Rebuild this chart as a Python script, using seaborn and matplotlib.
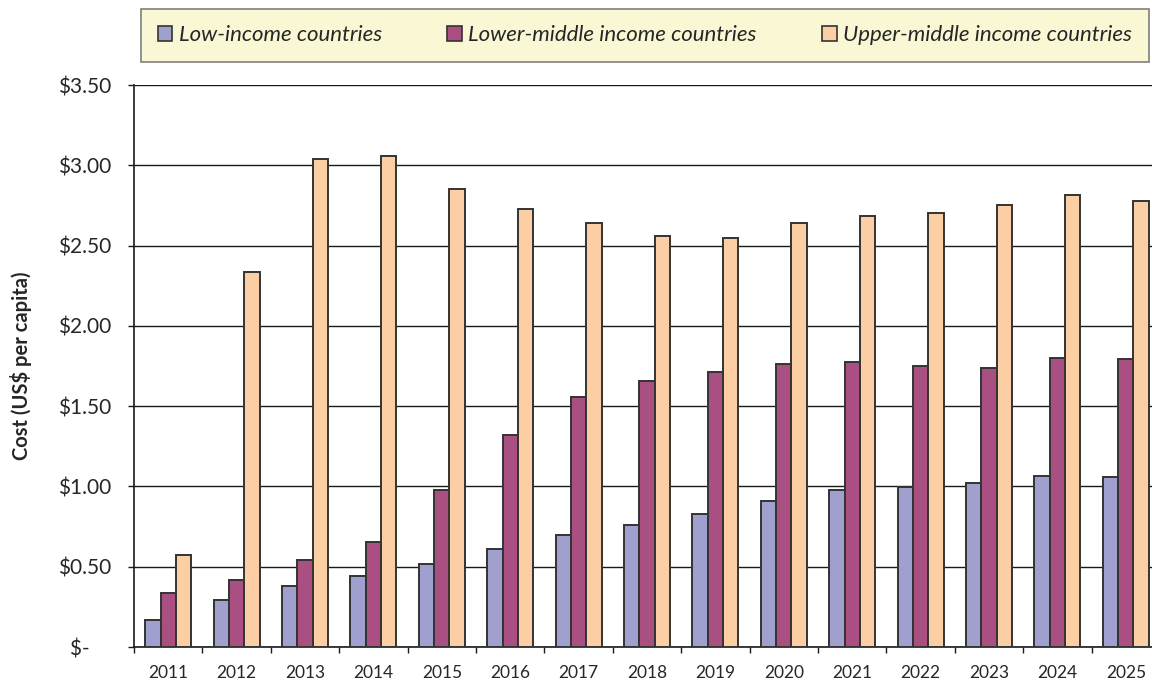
"""
Cost per capita by country income group, 2011-2025
Grouped bar chart recreated with seaborn
"""

import pandas as pd
import matplotlib
matplotlib.use("Agg")
import matplotlib.pyplot as plt
from matplotlib.patches import Patch
from matplotlib.ticker import MultipleLocator
import seaborn as sns

# ----------------------------
# DATA
# ----------------------------
years = [str(y) for y in range(2011, 2026)]
groups = ["Low-income countries", "Lower-middle income countries",
          "Upper-middle income countries"]

low_income = [0.17, 0.29, 0.38, 0.44, 0.515, 0.61, 0.70, 0.76, 0.83,
              0.91, 0.975, 0.995, 1.02, 1.065, 1.06]
lower_middle = [0.335, 0.42, 0.54, 0.655, 0.98, 1.32, 1.56, 1.655, 1.71,
                1.765, 1.775, 1.75, 1.74, 1.80, 1.795]
upper_middle = [0.57, 2.335, 3.04, 3.06, 2.85, 2.725, 2.64, 2.56, 2.545,
                2.64, 2.685, 2.705, 2.755, 2.815, 2.78]

y_ticks = [0, 0.5, 1.0, 1.5, 2.0, 2.5, 3.0, 3.5]
y_tick_labels = ["$-    ", "$0.50", "$1.00", "$1.50", "$2.00", "$2.50",
                 "$3.00", "$3.50"]

colors = ["#9FA0CE", "#A94F82", "#FBCFA3"]


def build_frame():
    """Long-form table for seaborn."""
    rows = []
    for name, vals in zip(groups, [low_income, lower_middle, upper_middle]):
        for yr, v in zip(years, vals):
            rows.append({"year": yr, "group": name, "cost": v})
    return pd.DataFrame(rows)


def main():
    df = build_frame()

    sns.set_style("white")
    plt.rcParams["font.family"] = ["Lato", "DejaVu Sans"]

    fig = plt.figure(figsize=(11.52, 6.89), dpi=100)
    ax = fig.add_axes([134 / 1152, 42 / 689, 1026 / 1152, 562 / 689])

    sns.barplot(data=df, x="year", y="cost", hue="group", order=years,
                hue_order=groups, palette=colors, width=0.67, gap=0,
                edgecolor="#333333", linewidth=1.4, saturation=1,
                legend=False, ax=ax, zorder=3)

    # axes look
    ax.set_ylim(0, 3.5)
    ax.set_xlim(-0.5, len(years) - 0.5)
    ax.set_yticks(y_ticks)
    ax.set_yticklabels(y_tick_labels)
    ax.yaxis.grid(True, color="#1a1a1a", linewidth=1.0, zorder=0)
    ax.xaxis.grid(False)
    ax.set_axisbelow(True)

    for side in ["top", "right"]:
        ax.spines[side].set_visible(False)
    for side in ["left", "bottom"]:
        ax.spines[side].set_color("#1a1a1a")
        ax.spines[side].set_linewidth(1.2)

    ax.tick_params(axis="y", which="major", direction="out", length=4.5,
                   width=1, color="#1a1a1a", pad=12, labelsize=15,
                   left=True)
    ax.tick_params(axis="x", which="major", length=0, pad=13, labelsize=12.5)
    ax.xaxis.set_minor_locator(MultipleLocator(1, offset=0.5))
    ax.tick_params(axis="x", which="minor", direction="out", length=4,
                   width=1, color="#1a1a1a", bottom=True)

    ax.set_xlabel("")
    ax.set_ylabel("Cost (US$ per capita)", fontsize=14.5, fontweight="bold")
    ax.yaxis.set_label_coords(-0.0995, 0.5)

    # legend box across the top
    handles = [Patch(facecolor=c, edgecolor="#333333", linewidth=1.2)
               for c in colors]
    leg = fig.legend(handles, groups, loc="lower left",
                     bbox_to_anchor=(141 / 1152, 1 - 62 / 689,
                                     1008 / 1152, 54 / 689),
                     mode="expand", borderaxespad=0, ncol=3,
                     prop={"style": "italic", "size": 16},
                     handlelength=0.65, handleheight=0.65, handletextpad=0.3,
                     borderpad=0.75, fancybox=False, frameon=True)
    frame = leg.get_frame()
    frame.set_facecolor("#FAF8D4")
    frame.set_edgecolor("#7f7f7f")
    frame.set_linewidth(1.2)
    frame.set_alpha(1)

    fig.savefig("out.png", dpi=100)
    plt.close(fig)


if __name__ == "__main__":
    main()
